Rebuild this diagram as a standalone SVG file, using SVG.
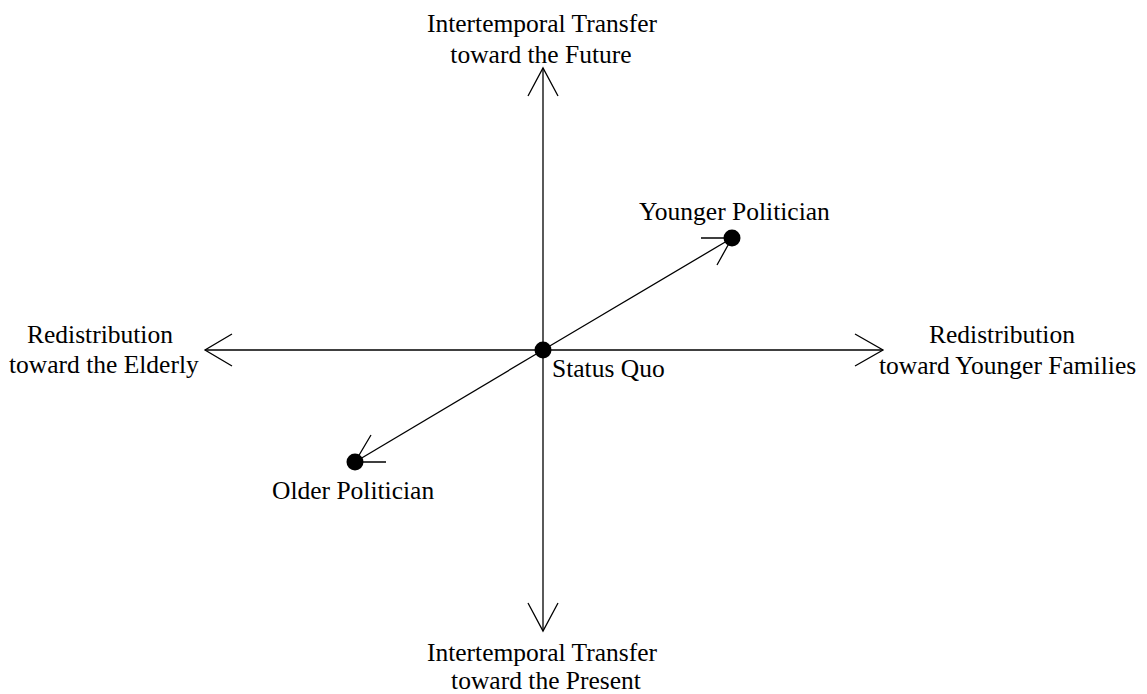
<svg xmlns="http://www.w3.org/2000/svg" width="1147" height="694" viewBox="0 0 1147 694">
<style>
.l{stroke:#000;stroke-width:1.3;fill:none}
.t{font-family:"Liberation Serif","Times New Roman",serif;font-size:25.5px;fill:#000}
.d{fill:#000}
</style>
<rect width="1147" height="694" fill="#fff"/>
<g id="connectors">
<path class="l" d="M543,68 V631"/>
<path class="l" d="M528,96 L543,68 L558,96"/>
<path class="l" d="M528,603 L543,631 L558,603"/>
<path class="l" d="M205,350 H883"/>
<path class="l" d="M232,334 L205,350 L232,366"/>
<path class="l" d="M855,334 L883,350 L855,366"/>
<path class="l" d="M543,350 L732,238"/>
<path class="l" d="M701,238 L732,238 L717,265"/>
<path class="l" d="M543,350 L355,462"/>
<path class="l" d="M386,462 L355,462 L371,435"/>
</g>
<g id="axis-top"><text class="t" x="542" y="32" text-anchor="middle">Intertemporal Transfer</text><text class="t" x="541" y="63" text-anchor="middle">toward the Future</text></g>
<g id="axis-bottom"><text class="t" x="542" y="661" text-anchor="middle">Intertemporal Transfer</text><text class="t" x="546" y="689" text-anchor="middle">toward the Present</text></g>
<g id="axis-left"><text class="t" x="27" y="343">Redistribution</text><text class="t" x="9" y="373">toward the Elderly</text></g>
<g id="axis-right"><text class="t" x="929" y="343">Redistribution</text><text class="t" x="879" y="374">toward Younger Families</text></g>
<g id="status-quo"><circle class="d" cx="543" cy="350" r="8.5"/><text class="t" x="552" y="377">Status Quo</text></g>
<g id="younger-politician"><circle class="d" cx="732" cy="238" r="8.5"/><text class="t" x="639" y="220">Younger Politician</text></g>
<g id="older-politician"><circle class="d" cx="355" cy="462" r="8.5"/><text class="t" x="272" y="499">Older Politician</text></g>
</svg>
